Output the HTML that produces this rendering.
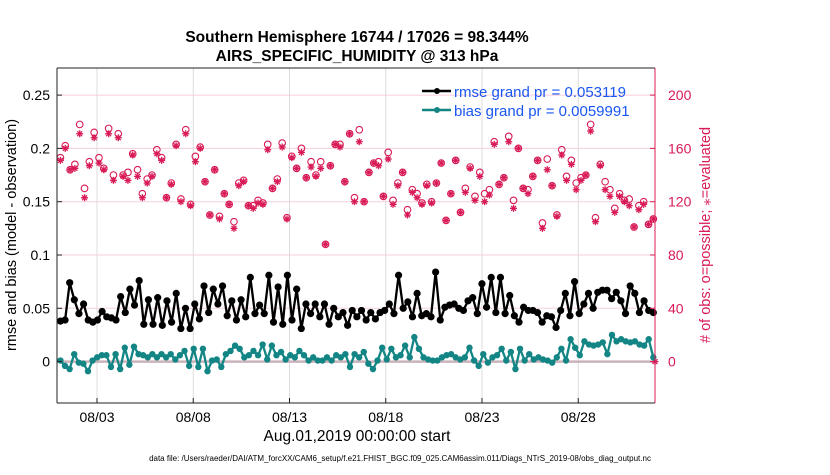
<!DOCTYPE html>
<html><head><meta charset="utf-8"><style>
body{margin:0;background:#fff;width:830px;height:470px;overflow:hidden}
svg text{font-family:"Liberation Sans",Arial,sans-serif}
</style></head><body>
<svg id="chart" width="830" height="470">
<g id="grid"></g>
<g id="marks"></g>
<g id="axes"></g>
<text x="357" y="42" text-anchor="middle" font-size="15.5" font-weight="bold">Southern Hemisphere 16744 / 17026 = 98.344%</text>
<text x="357" y="61" text-anchor="middle" font-size="15.5" font-weight="bold">AIRS_SPECIFIC_HUMIDITY @ 313 hPa</text>
<text transform="translate(16,235) rotate(-90)" text-anchor="middle" font-size="14.5">rmse and bias (model - observation)</text>
<text transform="translate(710,235) rotate(-90)" text-anchor="middle" font-size="14.5" fill="#d81b56"># of obs: o=possible; ⁎=evaluated</text>
<text x="357" y="441" text-anchor="middle" font-size="15.5">Aug.01,2019 00:00:00 start</text>
<text x="400" y="461" text-anchor="middle" font-size="8">data file: /Users/raeder/DAI/ATM_forcXX/CAM6_setup/f.e21.FHIST_BGC.f09_025.CAM6assim.011/Diags_NTrS_2019-08/obs_diag_output.nc</text>
<g>
<line x1="422" y1="91" x2="451" y2="91" stroke="#000" stroke-width="2.5"/>
<circle cx="437" cy="91" r="3" fill="#000"/>
<text x="454" y="97" font-size="15" fill="#1a56f0">rmse grand pr = 0.053119</text>
<line x1="422" y1="110" x2="451" y2="110" stroke="#138585" stroke-width="2.5"/>
<circle cx="437" cy="110" r="3" fill="#138585"/>
<text x="454" y="116" font-size="15" fill="#1a56f0">bias grand pr = 0.0059991</text>
</g>
</svg>
<script>
const rmse=[0.038,0.039,0.074,0.058,0.045,0.054,0.039,0.037,0.039,0.047,0.042,0.041,0.039,0.061,0.046,0.068,0.053,0.076,0.035,0.058,0.035,0.060,0.034,0.057,0.037,0.064,0.031,0.050,0.031,0.054,0.040,0.071,0.046,0.068,0.054,0.071,0.043,0.057,0.039,0.058,0.042,0.079,
0.045,0.053,0.045,0.081,0.037,0.070,0.035,0.081,0.039,0.068,0.031,0.054,0.045,0.054,0.042,0.054,0.035,0.050,0.042,0.046,0.034,0.048,0.042,0.048,0.039,0.046,0.040,0.046,0.048,0.054,0.045,0.081,0.050,0.056,0.042,0.064,0.043,0.045,0.042,0.084,0.039,0.051,0.053,0.054,0.050,
0.048,0.057,0.060,0.045,0.073,0.051,0.079,0.046,0.079,0.045,0.062,0.043,0.037,0.051,0.048,0.048,0.046,0.037,0.043,0.042,0.032,0.048,0.064,0.043,0.075,0.045,0.054,0.064,0.050,0.065,0.067,0.067,0.059,0.065,0.057,0.045,0.071,0.064,0.046,0.057,0.048,0.046];
const bias=[0.001,-0.004,-0.007,0.007,-0.001,-0.002,-0.009,0.001,0.004,0.006,0.006,-0.005,0.007,-0.007,0.013,-0.003,0.014,0.007,0.006,0.004,0.007,0.004,0.007,0.004,0.007,0.002,0.006,0.010,-0.004,0.012,-0.005,0.012,-0.009,0.001,0.002,-0.005,0.007,0.010,0.015,0.012,0.004,0.006,
0.010,0.006,0.016,0.002,0.015,0.006,0.009,0.002,0.006,0.004,0.010,0.006,0.001,0.004,0.001,0.001,0.004,0.001,0.006,0.004,0.007,-0.005,0.007,0.004,0.009,-0.002,-0.007,0.001,0.013,0.002,0.012,0.004,0.006,0.015,0.004,0.023,0.012,0.004,0.002,0.001,0.001,0.004,0.006,0.007,0.004,
0.002,0.004,0.013,0.001,-0.004,0.007,-0.001,0.004,0.006,0.012,0.001,0.009,-0.007,0.012,0.001,0.007,0.002,0.004,0.002,0.001,-0.001,0.004,0.012,0.001,0.021,0.013,0.006,0.019,0.016,0.015,0.016,0.018,0.007,0.025,0.019,0.021,0.019,0.018,0.019,0.016,0.015,0.021,0.004];
const possible=[153,162,144,148,178,130,150,172,153,145,175,140,171,140,142,156,144,126,137,140,159,153,123,134,163,122,174,118,154,161,135,110,144,109,126,118,105,134,136,117,117,121,119,163,130,137,164,108,154,145,160,138,150,140,150,88,147,163,163,135,171,123,
174,120,142,149,150,124,157,121,134,142,114,129,126,119,133,120,134,149,106,126,151,112,130,146,124,142,126,129,165,133,138,169,121,160,130,129,139,151,104,152,132,110,159,139,151,134,138,140,178,108,148,135,129,115,126,121,122,101,117,120,103,107];
const evaluated=[151,160,144,145,171,123,147,168,149,144,171,136,168,139,136,155,139,123,134,139,156,151,123,133,162,120,171,117,150,160,135,110,144,107,126,118,100,132,135,117,115,119,118,159,130,135,161,107,153,145,157,138,146,139,145,88,147,163,161,135,171,120,
165,120,142,149,147,124,152,118,132,142,110,127,123,118,132,119,134,149,106,126,151,112,127,145,121,139,120,125,163,133,138,165,115,160,130,126,139,151,100,144,132,109,155,136,148,129,136,140,173,105,147,129,124,112,124,120,117,101,114,118,103,107];
const xTickDays=[2,7,12,17,22,27];
const xTickLabels=['08/03','08/08','08/13','08/18','08/23','08/28'];
const yTicks=[0,0.05,0.1,0.15,0.2,0.25];
const yTickLabels=['0','0.05','0.1','0.15','0.2','0.25'];
const rTicks=[0,40,80,120,160,200];

const L=57,R=655,T=68,B=403;
const X=d=>58.5+d*19.25;
const Y=v=>361.6-v*1066;
const YR=c=>361.6-c*(266.5/200);
const tStart=0.1,tEnd=30.9;
const tAt=(i,n)=>tStart+i*(tEnd-tStart)/(n-1);
const NS='http://www.w3.org/2000/svg';
function mk(tag,attrs,parent){const e=document.createElementNS(NS,tag);for(const k in attrs)e.setAttribute(k,attrs[k]);parent.appendChild(e);return e;}
const grid=document.getElementById('grid'),marks=document.getElementById('marks'),axes=document.getElementById('axes');
const PINK='#d81b56',TEAL='#138585';

xTickDays.forEach((d,i)=>{
 const g=mk('line',{x1:X(d),x2:X(d),y1:T,y2:B,stroke:'#dcdcdc','stroke-width':1},grid);
 
 
 mk('line',{x1:X(d),x2:X(d),y1:B,y2:B-5,stroke:'#222'},axes);
 const t=mk('text',{x:X(d),y:B+19,'text-anchor':'middle','font-size':14},axes);
 t.textContent=xTickLabels[i];
 
 
});
rTicks.forEach(c=>{
 const g=mk('line',{x1:L,x2:R,y1:YR(c),y2:YR(c),stroke:'#f6cfdc','stroke-width':1},grid);
 
 
 mk('line',{x1:R,x2:R-5,y1:YR(c),y2:YR(c),stroke:PINK},axes);
 const t=mk('text',{x:R+13,y:YR(c)+5,'font-size':14,fill:PINK},axes);
 t.textContent=String(c);
 
 
});
yTicks.forEach((v,i)=>{
 mk('line',{x1:L,x2:L+5,y1:Y(v),y2:Y(v),stroke:'#222'},axes);
 const t=mk('text',{x:L-7,y:Y(v)+5,'text-anchor':'end','font-size':14},axes);
 t.textContent=yTickLabels[i];
 
 
});
const zl=mk('line',{x1:L,x2:R,y1:Y(0),y2:Y(0),stroke:'#c9b2ba','stroke-width':2.5},grid);



function star(cx,cy,r,color,parent){
 const g=mk('g',{stroke:color,'stroke-width':1.3},parent);
 mk('line',{x1:cx-r,x2:cx+r,y1:cy,y2:cy},g);
 mk('line',{x1:cx,x2:cx,y1:cy-r,y2:cy+r},g);
 mk('line',{x1:cx-r*0.7,x2:cx+r*0.7,y1:cy-r*0.7,y2:cy+r*0.7},g);
 mk('line',{x1:cx-r*0.7,x2:cx+r*0.7,y1:cy+r*0.7,y2:cy-r*0.7},g);
 return g;
}
possible.forEach((c,i)=>{
 const ci=mk('circle',{cx:X(tAt(i,possible.length)),cy:YR(c),r:3.3,fill:'none',stroke:PINK,'stroke-width':1.1},marks);
 
 
});
evaluated.forEach((c,i)=>{
 const s=star(X(tAt(i,evaluated.length)),YR(c),3.5,PINK,marks);
 
 
});
const endStar=star(R,YR(0),3.5,PINK,marks);



function series(vals,color,name,r){
 const pts=vals.map((v,i)=>X(tAt(i,vals.length)).toFixed(1)+','+Y(v).toFixed(1)).join(' ');
 const pl=mk('polyline',{points:pts,fill:'none',stroke:color,'stroke-width':2.3,'stroke-linejoin':'round'},marks);
 
 
 vals.forEach((v,i)=>{
  const c=mk('circle',{cx:X(tAt(i,vals.length)),cy:Y(v),r:r,fill:color},marks);
  
  
 });
}
series(bias,TEAL,'bias',3.2);
series(rmse,'#000','rmse',3.6);

mk('line',{x1:L,x2:L,y1:T,y2:B,stroke:'#222','stroke-width':1},axes);
mk('line',{x1:L,x2:R,y1:B,y2:B,stroke:'#222','stroke-width':1},axes);
mk('line',{x1:R,x2:R,y1:T,y2:B,stroke:PINK,'stroke-width':1},axes);
mk('line',{x1:L,x2:R,y1:T,y2:T,stroke:'#222','stroke-width':1},axes);
</script>
</body></html>
